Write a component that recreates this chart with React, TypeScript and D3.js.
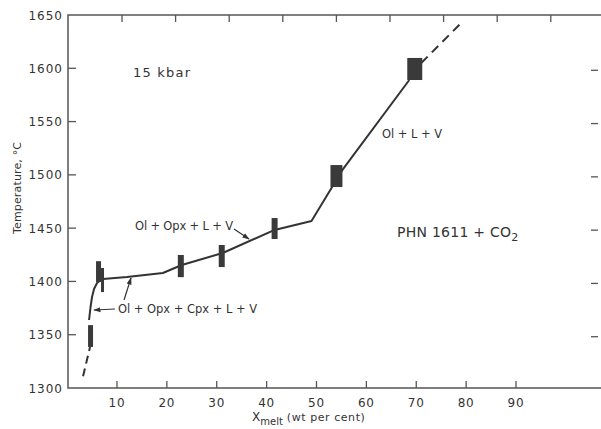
import React, { useEffect, useRef } from "react";
import * as d3 from "d3";

// melt curve, solid and dashed (extrapolated) parts
const lowDashX = [3.2, 4.6];
const lowDashT = [1311, 1338.5];
const curveX = [4.4, 4.7, 5.0, 5.4, 6.0, 6.6, 7.2, 12, 19.2, 23, 31.2, 41.6, 49, 55.2, 68.6];
const curveT = [1363.8, 1376, 1385.4, 1392.9, 1398.5, 1400.9, 1402.3, 1404.2, 1407.9, 1415.4, 1426.7, 1448.3, 1456.7, 1504.6, 1589];
const highDashX = [71, 79.4];
const highDashT = [1605, 1644.4];

// experimental brackets
const boxXLo = [4.2, 5.8, 6.8, 22.2, 30.4, 41.0, 52.8, 68.2];
const boxXHi = [5.2, 6.8, 7.4, 23.4, 31.6, 42.2, 55.2, 71.2];
const boxTLo = [1338.5, 1399.5, 1390, 1404, 1413.5, 1439.8, 1488.6, 1589];
const boxTHi = [1359, 1419, 1412.6, 1424.8, 1434.2, 1459.5, 1509.2, 1609.7];

const xTicks = [10, 20, 30, 40, 50, 60, 70, 80, 90];
const yTicks = [1300, 1350, 1400, 1450, 1500, 1550, 1600, 1650];

const W = 601, H = 429;
const ink = "#333";
const axisInk = "#555";
const font = "'DejaVu Sans', Verdana, sans-serif";

export default function App() {
  const ref = useRef<SVGSVGElement>(null);

  useEffect(() => {
    const svg = d3.select(ref.current);
    svg.selectAll("*").remove();

    var x = d3.scaleLinear().domain([0, 100]).range([67.1, 565.9]);
    var xTop = d3.scaleLinear().domain([0, 100]).range([68.4, 604.4]);
    var y = d3.scaleLinear().domain([1300, 1650]).range([388, 15]);

    svg.append("defs").append("marker")
      .attr("id", "arr")
      .attr("viewBox", "0 0 10 10")
      .attr("refX", 9).attr("refY", 5)
      .attr("markerWidth", 6).attr("markerHeight", 6)
      .attr("orient", "auto")
      .append("path").attr("d", "M0,1.5 L10,5 L0,8.5 Z").attr("fill", ink);

    // frame
    var left = 68, right = 601, top = y(1650), bottom = y(1300);
    svg.append("path")
      .attr("d", `M${right},${top} H${left} V${bottom} H${right}`)
      .attr("fill", "none").attr("stroke", axisInk).attr("stroke-width", 1.5);

    // ticks (inward)
    const g = svg.append("g").attr("stroke", axisInk).attr("stroke-width", 1.3);
    g.selectAll(".tb").data(xTicks).join("line")
      .attr("x1", d => x(d)).attr("x2", d => x(d))
      .attr("y1", bottom).attr("y2", bottom - 7);
    g.selectAll(".tt").data(xTicks).join("line")
      .attr("x1", d => xTop(d)).attr("x2", d => xTop(d))
      .attr("y1", top).attr("y2", top + 7);
    g.selectAll(".tl").data(yTicks.slice(1, -1)).join("line")
      .attr("x1", left).attr("x2", left + 8)
      .attr("y1", d => y(d)).attr("y2", d => y(d));
    g.selectAll(".tr").data(yTicks.slice(1, -1)).join("line")
      .attr("x1", 591).attr("x2", 598)
      .attr("y1", d => y(d) + 2).attr("y2", d => y(d) + 2);

    // tick labels
    svg.append("g").selectAll("text").data(xTicks).join("text")
      .attr("x", d => x(d)).attr("y", 407)
      .attr("text-anchor", "middle")
      .attr("font-family", font).attr("font-size", 12)
      .attr("letter-spacing", 0.8).attr("fill", ink)
      .text(d => d);
    svg.append("g").selectAll("text").data(yTicks).join("text")
      .attr("x", 63).attr("y", d => y(d) + 4.5)
      .attr("text-anchor", "end")
      .attr("font-family", font).attr("font-size", 12)
      .attr("letter-spacing", 1).attr("fill", ink)
      .text(d => d);

    // axis titles
    const xt = svg.append("text").attr("x", 252).attr("y", 421)
      .attr("font-family", font).attr("font-size", 12).attr("fill", ink);
    xt.append("tspan").text("X");
    xt.append("tspan").attr("dy", 4).attr("font-size", 10).text("melt");
    xt.append("tspan").attr("dy", -4).attr("dx", 4).attr("font-size", 11)
      .attr("textLength", 78).attr("lengthAdjust", "spacing").text("(wt per cent)");

    svg.append("text")
      .attr("transform", "translate(21,188) rotate(-90)")
      .attr("text-anchor", "middle")
      .attr("font-family", font).attr("font-size", 11).attr("fill", ink)
      .attr("textLength", 92).attr("lengthAdjust", "spacing")
      .text("Temperature, °C");

    // curve
    const lin = d3.line<[number, number]>().x(d => x(d[0])).y(d => y(d[1]));
    svg.append("path")
      .attr("d", lin(curveX.map((v, i) => [v, curveT[i]]))!)
      .attr("fill", "none").attr("stroke", ink).attr("stroke-width", 2)
      .attr("stroke-linejoin", "round");
    svg.append("path")
      .attr("d", lin(lowDashX.map((v, i) => [v, lowDashT[i]]))!)
      .attr("fill", "none").attr("stroke", ink).attr("stroke-width", 2)
      .attr("stroke-dasharray", "8,5");
    svg.append("path")
      .attr("d", lin(highDashX.map((v, i) => [v, highDashT[i]]))!)
      .attr("fill", "none").attr("stroke", ink).attr("stroke-width", 2)
      .attr("stroke-dasharray", "9,6");

    // brackets
    svg.append("g").selectAll("rect").data(boxXLo).join("rect")
      .attr("x", (d) => x(d))
      .attr("width", (d, i) => x(boxXHi[i]) - x(d))
      .attr("y", (d, i) => y(boxTHi[i]))
      .attr("height", (d, i) => y(boxTLo[i]) - y(boxTHi[i]))
      .attr("fill", "#3a3a3a");

    // labels
    const lab = (tx: number, ty: number, s: string, size: number, len?: number) => {
      const t = svg.append("text").attr("x", tx).attr("y", ty)
        .attr("font-family", font).attr("font-size", size).attr("fill", ink).text(s);
      if (len) t.attr("textLength", len).attr("lengthAdjust", "spacing");
      return t;
    };
    lab(133, 77, "15 kbar", 13, 57);
    lab(382, 138, "Ol + L + V", 11.5, 60);
    lab(135, 230, "Ol + Opx + L + V", 11.5, 98);
    lab(118, 313, "Ol + Opx + Cpx + L + V", 11.5, 139);
    const ph = svg.append("text").attr("x", 397).attr("y", 237)
      .attr("font-family", font).attr("font-size", 14).attr("fill", ink);
    ph.append("tspan").attr("textLength", 114).attr("lengthAdjust", "spacing").text("PHN 1611 + CO");
    ph.append("tspan").attr("dy", 4).attr("font-size", 11).text("2");

    // leaders
    const lead = (x1: number, y1: number, x2: number, y2: number) =>
      svg.append("line").attr("x1", x1).attr("y1", y1).attr("x2", x2).attr("y2", y2)
        .attr("stroke", ink).attr("stroke-width", 1.2).attr("marker-end", "url(#arr)");
    lead(234, 229, 249, 239);
    lead(115, 309, 94, 310);
    lead(124, 300, 131, 278);
  }, []);

  return (
    <svg ref={ref} width={W} height={H}
      style={{ position: "absolute", left: 0, top: 0, background: "#fff" }} />
  );
}
